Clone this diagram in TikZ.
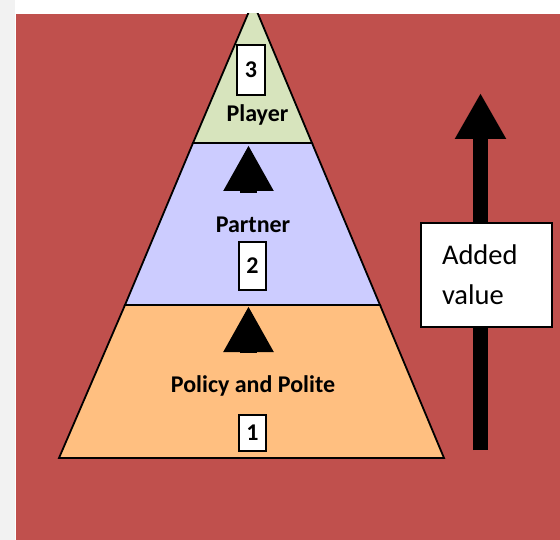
\documentclass[tikz,border=0pt]{standalone}
\usepackage{fontspec}
\setmainfont{Carlito}
\usetikzlibrary{arrows.meta}
\definecolor{slidered}{HTML}{C0504D}
\definecolor{stripgray}{HTML}{F2F2F2}
\definecolor{playergreen}{HTML}{D7E4BD}
\definecolor{partnerblue}{HTML}{CCCCFF}
\definecolor{policyorange}{HTML}{FFBF80}
\begin{document}
\begin{tikzpicture}[x=1pt,y=-1pt,
  level/.style={draw=black,line width=1.8pt,line join=miter},
  levelname/.style={anchor=base,font=\fontsize{24}{28}\selectfont\bfseries},
  numbox/.style={draw=black,fill=white,line width=1.5pt,inner sep=0pt,minimum width=27pt,font=\fontsize{24}{28}\selectfont\bfseries},
  stepup/.style={line width=17pt,-{Triangle[width=47pt,length=46pt]}},
  valuearrow/.style={line width=15pt,-{Triangle[width=48pt,length=46pt]}},
  valuebox/.style={draw=black,fill=white,line width=1.5pt,text width=89pt,align=left,inner xsep=21pt,minimum height=104pt,font=\fontsize{28.5}{40}\selectfont}]

\useasboundingbox (0,0) rectangle (560,540);
\fill[stripgray] (0,0) rectangle (15,540);
\fill[slidered] (16,14) rectangle (560,540);

\begin{scope}
\clip (16,14) rectangle (560,540);
\draw[level,fill=policyorange] (59,458) -- (444,458) -- (380,305) -- (125,305) -- cycle;
\draw[level,fill=partnerblue] (125,305) -- (380,305) -- (312,143) -- (193,143) -- cycle;
\draw[level,fill=playergreen] (193,143) -- (312,143) -- (253,2) -- cycle;
% level borders
\draw[level,line width=2.8pt] (125,305) -- (380,305);
\draw[level,line width=2.8pt] (193,143) -- (312,143);
\end{scope}

\node[numbox,minimum width=28pt,minimum height=50pt] (num3) at (251,70) {3};
\node[levelname] (player) at (257.5,121.5) {Player};
\node[levelname] (partner) at (253,232.7) {Partner};
\node[numbox,minimum height=48pt] (num2) at (252.5,266) {2};
\node[levelname] (policy) at (253,392.7) {Policy and Polite};
\node[numbox,minimum height=36pt] (num1) at (252.5,433) {1};

\coordinate (stepBfoot) at (248.5,193);
\coordinate (stepBhead) at (248.5,145);
\coordinate (stepAfoot) at (248.5,353);
\coordinate (stepAhead) at (248.5,306);
\draw[stepup] (stepAfoot) -- (stepAhead);
\draw[stepup] (stepBfoot) -- (stepBhead);

\coordinate (valuefoot) at (480.5,450);
\coordinate (valuehead) at (480.5,93);
\draw[valuearrow] (valuefoot) -- (valuehead);
\node[valuebox] (addedvalue) at (486.5,275) {Added\\value};
\end{tikzpicture}
\end{document}
